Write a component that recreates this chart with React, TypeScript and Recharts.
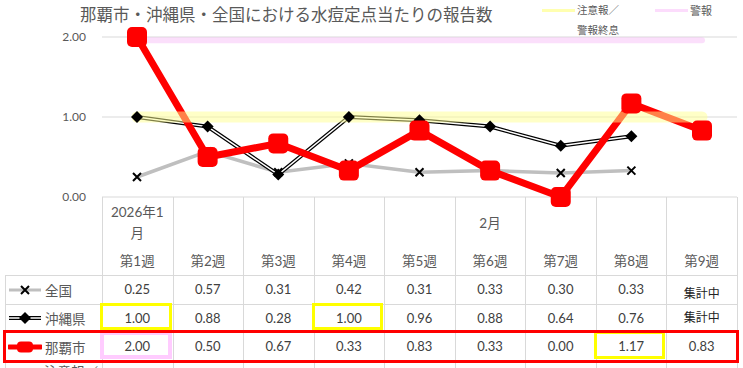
import { CartesianGrid, Line, LineChart, XAxis, YAxis } from "recharts";

const weeks = ["第1週", "第2週", "第3週", "第4週", "第5週", "第6週", "第7週", "第8週", "第9週"];
const months = ["2026年1月", "", "", "", "", "2月", "", "", ""];
const zenkoku = [0.25, 0.57, 0.31, 0.42, 0.31, 0.33, 0.3, 0.33, null];
const okinawa = [1.0, 0.88, 0.28, 1.0, 0.96, 0.88, 0.64, 0.76, null];
const naha = [2.0, 0.5, 0.67, 0.33, 0.83, 0.33, 0.0, 1.17, 0.83];
const caution = [1, 1, 1, 1, 1, 1, 1, 1, 1];
const alarm = [1.96, 1.96, 1.96, 1.96, 1.96, 1.96, 1.96, 1.96, 1.96];
const yTicks = [0, 1, 2];

const data = weeks.map((w, i) => ({
  week: w,
  zenkoku: zenkoku[i],
  okinawa: okinawa[i],
  naha: naha[i],
  caution: caution[i],
  alarm: alarm[i],
}));

const TEXT = "#595959";
const GRID = "#D9D9D9";
const FONT = "Lato, 'Noto Sans CJK JP', sans-serif";
const X0 = 102;
const COLW = 635 / 9;
const rowEdges = [275, 304, 332, 361, 390];

const xDot = (p: any) => {
  const { cx, cy, index } = p;
  if (cx == null || cy == null || p.value == null) return <g key={"x" + index} />;
  return (
    <path
      key={"x" + index}
      d={`M${cx - 4},${cy - 4}L${cx + 4},${cy + 4}M${cx - 4},${cy + 4}L${cx + 4},${cy - 4}`}
      stroke="#000"
      strokeWidth={2}
    />
  );
};

const diamondDot = (p: any) => {
  const { cx, cy, index } = p;
  if (cx == null || cy == null || p.value == null) return <g key={"d" + index} />;
  return <path key={"d" + index} d={`M${cx},${cy - 6}L${cx + 6},${cy}L${cx},${cy + 6}L${cx - 6},${cy}Z`} fill="#000" />;
};

const squareDot = (p: any) => {
  const { cx, cy, index } = p;
  if (cx == null || cy == null) return <g key={"s" + index} />;
  return <rect key={"s" + index} x={cx - 10} y={cy - 10} width={20} height={20} rx={5} fill="#FF0000" />;
};

const TopLegend = () => (
  <div style={{ position: "absolute", left: 542, top: 0, width: 200, height: 40, fontFamily: "'Noto Sans CJK JP', sans-serif", color: TEXT }}>
    <div style={{ position: "absolute", left: 0, top: 9, width: 33, height: 3, background: "#FFFFB0" }} />
    <div style={{ position: "absolute", left: 35, top: 0, fontSize: 10.5, lineHeight: "20px" }}>
      注意報／
      <br />
      警報終息
    </div>
    <div style={{ position: "absolute", left: 113, top: 9, width: 33, height: 3, background: "#FCDCFC" }} />
    <div style={{ position: "absolute", left: 148, top: 1, fontSize: 11, lineHeight: "18px" }}>警報</div>
  </div>
);

const seriesRows = [
  { label: "全国", values: zenkoku, mark: "z", flag: false },
  { label: "沖縄県", values: okinawa, mark: "o", flag: true },
  { label: "那覇市", values: naha, mark: "n", flag: true },
];

const RowKey = ({ kind }: { kind: string }) => {
  if (kind === "z")
    return (
      <svg width={34} height={12}>
        <line x1={1} y1={6} x2={33} y2={6} stroke="#BFBFBF" strokeWidth={3} />
        <path d="M13,2L21,10M13,10L21,2" stroke="#000" strokeWidth={2} />
      </svg>
    );
  if (kind === "o")
    return (
      <svg width={34} height={14}>
        <line x1={1} y1={7} x2={33} y2={7} stroke="#000" strokeWidth={4} />
        <line x1={1} y1={7} x2={33} y2={7} stroke="#fff" strokeWidth={1.5} />
        <path d="M17,1L23,7L17,13L11,7Z" fill="#000" />
      </svg>
    );
  return (
    <svg width={34} height={14}>
      <line x1={1} y1={7} x2={33} y2={7} stroke="#FF0000" strokeWidth={5} strokeLinecap="round" />
      <rect x={9} y={1.5} width={16} height={11} rx={4} fill="#FF0000" />
    </svg>
  );
};

const DataTable = () => {
  const lines: any[] = [];
  for (let i = 0; i <= 9; i++) {
    lines.push(
      <div key={"v" + i} style={{ position: "absolute", left: Math.round(X0 + i * COLW), top: 197, width: 1, height: 200, background: GRID }} />
    );
  }
  lines.push(<div key="vl" style={{ position: "absolute", left: 5, top: 275, width: 1, height: 120, background: GRID }} />);
  rowEdges.forEach((y, i) =>
    lines.push(<div key={"h" + i} style={{ position: "absolute", left: 5, top: y, width: 733, height: 1, background: GRID }} />)
  );

  const cells: any[] = [];
  weeks.forEach((w, i) => {
    const left = X0 + i * COLW;
    cells.push(
      <div
        key={"m" + i}
        style={{ position: "absolute", left: left + 7, top: 201, width: COLW - 14, height: 44, display: "flex", alignItems: "center", justifyContent: "center", textAlign: "center", fontSize: 13.5, lineHeight: "21px", color: TEXT, wordBreak: "break-all" }}
      >
        {months[i]}
      </div>
    );
    cells.push(
      <div key={"w" + i} style={{ position: "absolute", left, top: 250, width: COLW, textAlign: "center", fontSize: 13.5, lineHeight: "22px", color: TEXT }}>
        {w}
      </div>
    );
  });

  seriesRows.forEach((r, ri) => {
    const top = rowEdges[ri];
    const h = rowEdges[ri + 1] - top;
    cells.push(
      <div key={"k" + ri} style={{ position: "absolute", left: 8, top, height: h, display: "flex", alignItems: "center", gap: 3, fontSize: 13.5, color: TEXT }}>
        <RowKey kind={r.mark} />
        <span>{r.label}</span>
      </div>
    );
    r.values.forEach((v, i) => {
      const left = X0 + i * COLW;
      const pending = v == null;
      cells.push(
        <div
          key={"c" + ri + "-" + i}
          style={{ position: "absolute", left, top: top + (pending && ri === 0 ? 4 : 0), width: COLW, height: h, lineHeight: h + "px", textAlign: "center", fontSize: pending ? 12 : 13, color: pending ? "#222" : "#404040" }}
        >
          {pending ? "集計中" : v.toFixed(2)}
        </div>
      );
      if (r.flag && v != null && v >= 1) {
        const color = v >= 2 ? "#FFCCFF" : "#FFFF00";
        cells.push(
          <div
            key={"b" + ri + "-" + i}
            style={{ position: "absolute", left: left - 2, top: top - 1, width: COLW + 1, height: h - 1, boxSizing: "border-box", border: `${v >= 2 ? 4 : 3}px solid ${color}` }}
          />
        );
      }
    });
  });

  cells.push(
    <div key="naharow" style={{ position: "absolute", left: 3, top: 330, width: 736, height: 33, boxSizing: "border-box", border: "3.5px solid #FF0000" }} />
  );
  cells.push(
    <div key="cautionrow" style={{ position: "absolute", left: 44, top: 362, fontSize: 13.5, lineHeight: "20px", color: TEXT }}>
      注意報／
    </div>
  );

  return (
    <div style={{ position: "absolute", left: 0, top: 0, width: 743, height: 368, fontFamily: FONT, pointerEvents: "none" }}>
      {lines}
      {cells}
    </div>
  );
};

export default function App() {
  return (
    <div style={{ position: "absolute", left: 0, top: 0, width: 743, height: 368, overflow: "hidden", background: "#fff", fontFamily: FONT }}>
      <div style={{ position: "absolute", left: 80, top: 0, lineHeight: "28px", fontSize: 16.5, color: TEXT, fontFamily: "'Noto Sans CJK JP', sans-serif" }}>
        那覇市・沖縄県・全国における水痘定点当たりの報告数
      </div>
      <TopLegend />
      <LineChart width={743} height={368} data={data} margin={{ top: 37, right: 6, bottom: 171, left: 0 }}>
        <CartesianGrid vertical={false} stroke={GRID} />
        <XAxis dataKey="week" hide padding={{ left: 35, right: 35 }} />
        <YAxis
          domain={[0, 2]}
          ticks={yTicks}
          width={102}
          axisLine={false}
          tickLine={false}
          tickSize={6}
          tickMargin={10}
          tick={{ fill: TEXT, fontSize: 12, fontFamily: FONT }}
          tickFormatter={(v: number) => v.toFixed(2)}
        />
        <Line dataKey="zenkoku" stroke="#BFBFBF" strokeWidth={3.5} dot={xDot} activeDot={false} isAnimationActive={false} />
        <Line dataKey="okinawa" stroke="#000" strokeWidth={4} dot={false} activeDot={false} isAnimationActive={false} />
        <Line dataKey="okinawa" stroke="#fff" strokeWidth={1.5} dot={diamondDot} activeDot={false} isAnimationActive={false} />
        <Line dataKey="naha" stroke="#FF0000" strokeWidth={7} strokeLinejoin="round" dot={squareDot} activeDot={false} isAnimationActive={false} />
        <Line dataKey="caution" stroke="#FFFF90" strokeOpacity={0.5} strokeWidth={11} strokeLinecap="round" dot={false} activeDot={false} isAnimationActive={false} />
        <Line dataKey="alarm" stroke="#F5B0F5" strokeOpacity={0.4} strokeWidth={6} strokeLinecap="round" dot={false} activeDot={false} isAnimationActive={false} />
      </LineChart>
      <DataTable />
    </div>
  );
}
